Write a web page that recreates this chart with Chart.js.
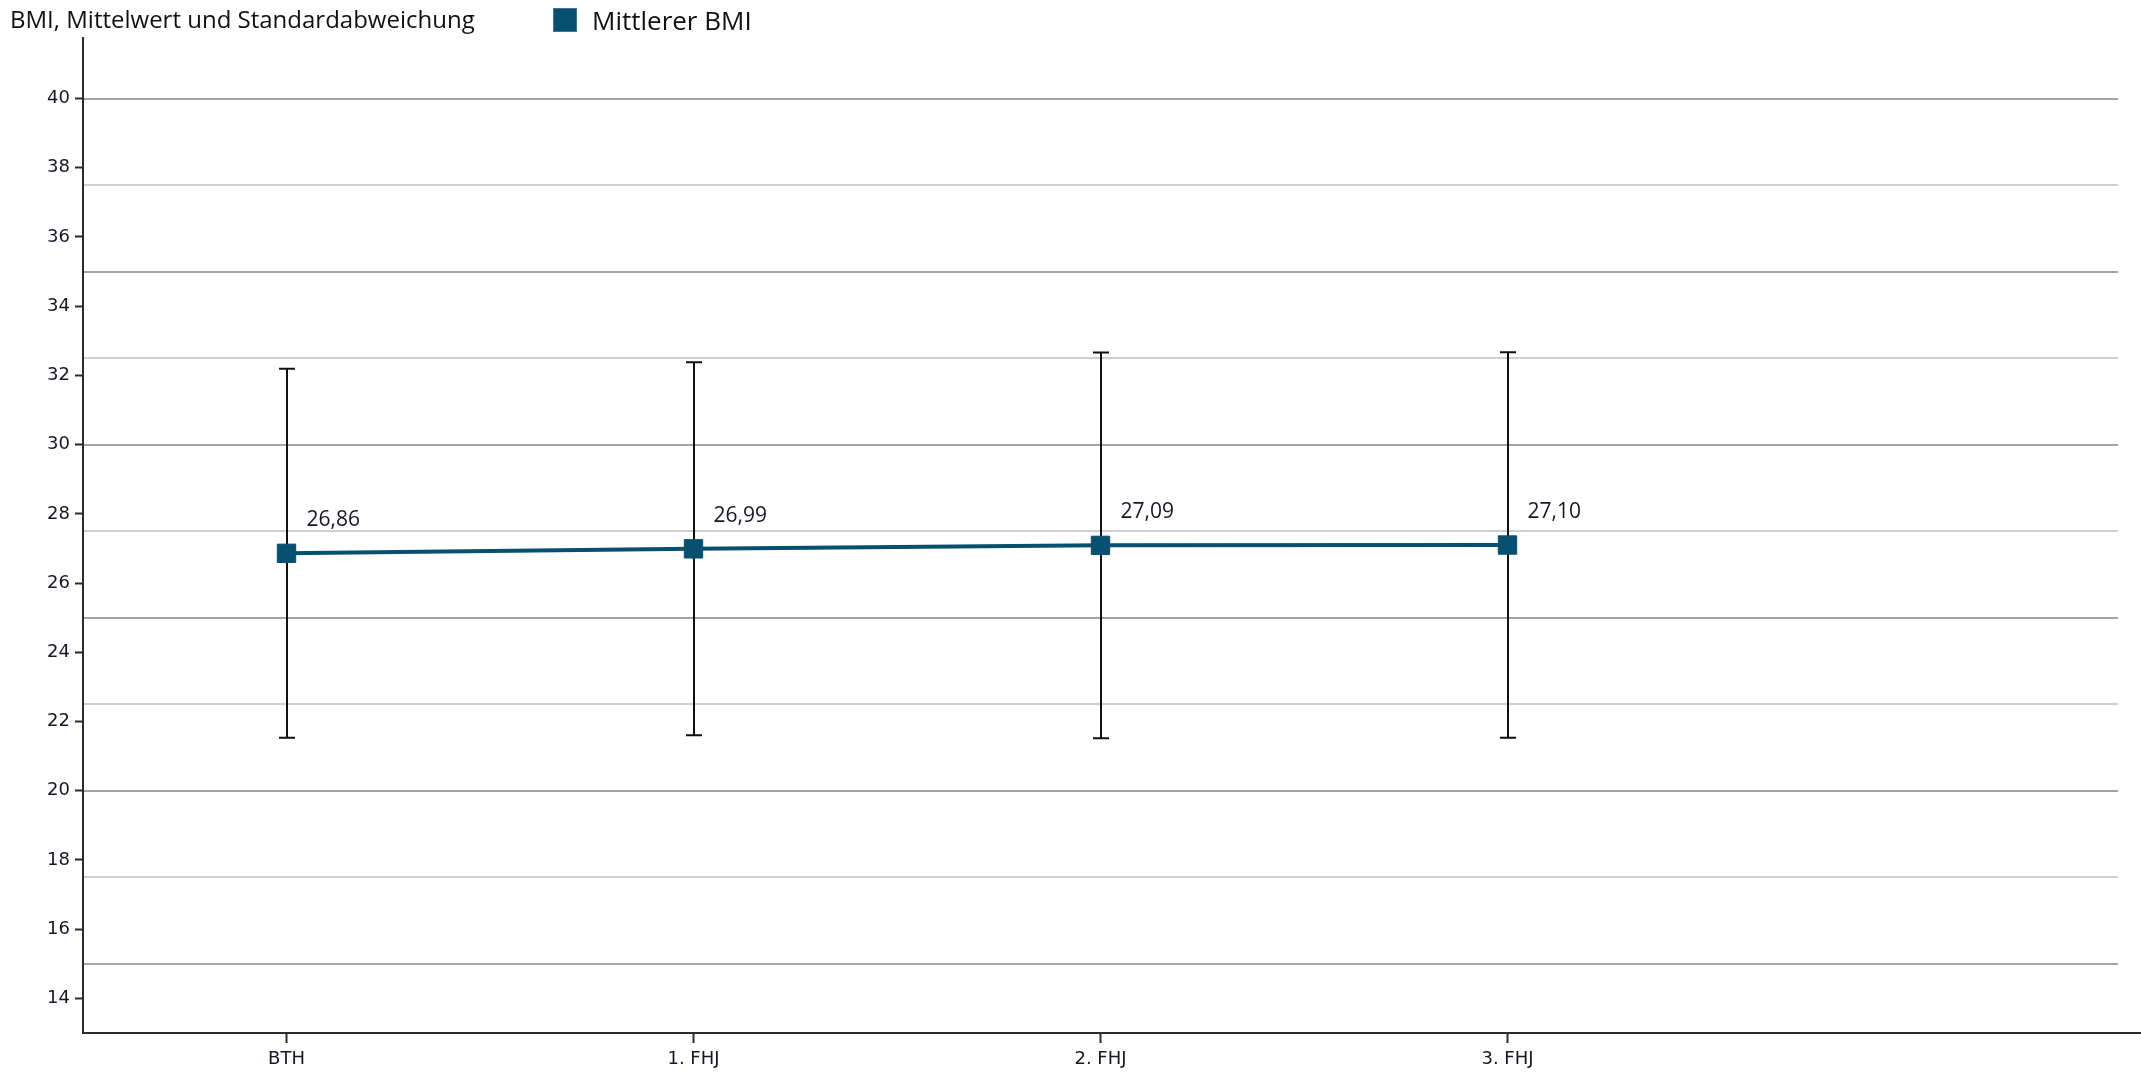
<!DOCTYPE html>
<html>
<head>
<meta charset="utf-8">
<script src="https://cdn.jsdelivr.net/npm/chart.js@4.4.1/dist/chart.umd.min.js"></script>
<style>
  html, body { margin: 0; padding: 0; background: #fff; }
  #wrap { position: relative; width: 2141px; height: 1073px; }
  #title {
    position: absolute; left: 10px; top: 2px;
    font: 24px 'Open Sans', sans-serif; color: #111; white-space: nowrap;
  }
  #legend {
    position: absolute; left: 553px; top: 0px; height: 40px;
    display: flex; align-items: center;
    font: 26px 'Open Sans', sans-serif; color: #111; white-space: nowrap;
  }
  #legend .box {
    width: 22px; height: 22px; background: #08506f; border: 1px solid #3d7593;
    margin-right: 15px;
  }
</style>
</head>
<body>
<div id="wrap">
  <canvas id="chart" width="2141" height="1073"></canvas>
  <div id="title">BMI, Mittelwert und Standardabweichung</div>
  <div id="legend"><span class="box"></span>Mittlerer BMI</div>
</div>
<script>
// -- data ------------------------------------------------------------------

const categories = ['BTH', '1. FHJ', '2. FHJ', '3. FHJ', ''];
const meanBMI    = [26.86, 26.99, 27.09, 27.10, null];
const sdBMI      = [5.33, 5.39, 5.57, 5.57, null];

const Y_MIN = 13;
const Y_MAX = 41.75;

// -- colours ---------------------------------------------------------------

const C = {
  line:      '#08506f',
  err:       '#111111',
  axis:      '#2b2b2b',
  gridMajor: '#a3a3a3',
  gridMinor: '#cfcfcf',
  text:      '#16162a',
};

// error bars (mean ± sd) drawn under the line, through the chart's scales
const errorBars = {
  id: 'errorBars',
  beforeDatasetsDraw(chart) {
    const ctx = chart.ctx;
    const x = chart.scales.x, y = chart.scales.y;
    ctx.save();
    ctx.strokeStyle = C.err;
    ctx.lineWidth = 2;
    meanBMI.forEach((m, i) => {
      if (m == null) return;
      const px = Math.round(x.getPixelForValue(i));
      const top = y.getPixelForValue(m + sdBMI[i]);
      const bot = y.getPixelForValue(m - sdBMI[i]);
      ctx.beginPath();
      ctx.moveTo(px, top); ctx.lineTo(px, bot);
      ctx.moveTo(px - 8, top); ctx.lineTo(px + 8, top);
      ctx.moveTo(px - 8, bot); ctx.lineTo(px + 8, bot);
      ctx.stroke();
    });
    ctx.restore();
  },
};

// value labels, German decimal comma
const valueLabels = {
  id: 'valueLabels',
  afterDatasetsDraw(chart) {
    const ctx = chart.ctx;
    const meta = chart.getDatasetMeta(0);
    ctx.save();
    ctx.font = "21px 'Open Sans', sans-serif";
    ctx.fillStyle = C.text;
    ctx.textAlign = 'left';
    ctx.textBaseline = 'middle';
    meta.data.forEach((pt, i) => {
      if (meanBMI[i] == null) return;
      ctx.fillText(meanBMI[i].toFixed(2).replace('.', ','), pt.x + 20, pt.y - 33);
    });
    ctx.restore();
  },
};

// the x axis line runs on to the right edge of the picture
const axisTail = {
  id: 'axisTail',
  afterDraw(chart) {
    const ctx = chart.ctx, a = chart.chartArea;
    ctx.save();
    ctx.strokeStyle = C.axis;
    ctx.lineWidth = 2;
    ctx.beginPath();
    ctx.moveTo(a.right, a.bottom);
    ctx.lineTo(chart.width, a.bottom);
    ctx.stroke();
    ctx.restore();
  },
};

new Chart(document.getElementById('chart'), {
  type: 'line',
  data: {
    labels: categories,
    datasets: [{
      label: 'Mittlerer BMI',
      data: meanBMI,
      borderColor: C.line,
      backgroundColor: C.line,
      borderWidth: 4,
      pointStyle: 'rect',
      pointRadius: 13,
      pointBorderWidth: 1,
      pointBorderColor: C.line,
      pointBackgroundColor: C.line,
      tension: 0,
      fill: false,
    }],
  },
  options: {
    responsive: false,
    animation: false,
    devicePixelRatio: 1,
    layout: { padding: { left: 0, top: 38, right: 23, bottom: 0 } },
    plugins: {
      legend: { display: false },
      tooltip: { enabled: false },
    },
    scales: {
      x: {
        offset: true,
        grid: {
          offset: false,
          drawOnChartArea: false,
          drawTicks: true,
          tickLength: 10,
          tickWidth: 2,
          // no tick mark under the empty last slot
          tickColor: ctx => categories[ctx.index] ? C.axis : 'rgba(0,0,0,0)',
        },
        border: { color: C.axis, width: 2 },
        ticks: {
          font: { family: "'DejaVu Sans', sans-serif", size: 18 },
          color: C.text,
          padding: 6,
          maxRotation: 0,
          autoSkip: false,
        },
        afterFit(axis) { axis.height = 40; },
      },
      y: {
        min: Y_MIN,
        max: Y_MAX,
        position: 'left',
        grid: {
          drawOnChartArea: false,
          drawTicks: true,
          tickLength: 8,
          tickWidth: 2,
          tickColor: C.axis,
        },
        border: { color: C.axis, width: 2 },
        ticks: {
          stepSize: 2,
          font: { family: "'DejaVu Sans', sans-serif", size: 18 },
          color: C.text,
          padding: 5,
        },
        afterBuildTicks(axis) { axis.ticks = axis.ticks.filter(t => t.value % 2 === 0); },
        afterFit(axis) { axis.width = 83; },
      },
      // gridlines every 2.5, darker on multiples of 5
      yg: {
        min: Y_MIN,
        max: Y_MAX,
        position: 'left',
        grid: {
          drawTicks: false,
          lineWidth: 2,
          color: ctx => (ctx.tick && ctx.tick.value % 5 === 0) ? C.gridMajor : C.gridMinor,
        },
        border: { display: false },
        ticks: { display: false, stepSize: 2.5 },
        afterBuildTicks(axis) { axis.ticks = axis.ticks.filter(t => t.value % 2.5 === 0); },
        afterFit(axis) { axis.width = 0; },
      },
    },
  },
  plugins: [errorBars, valueLabels, axisTail],
});
</script>
</body>
</html>
